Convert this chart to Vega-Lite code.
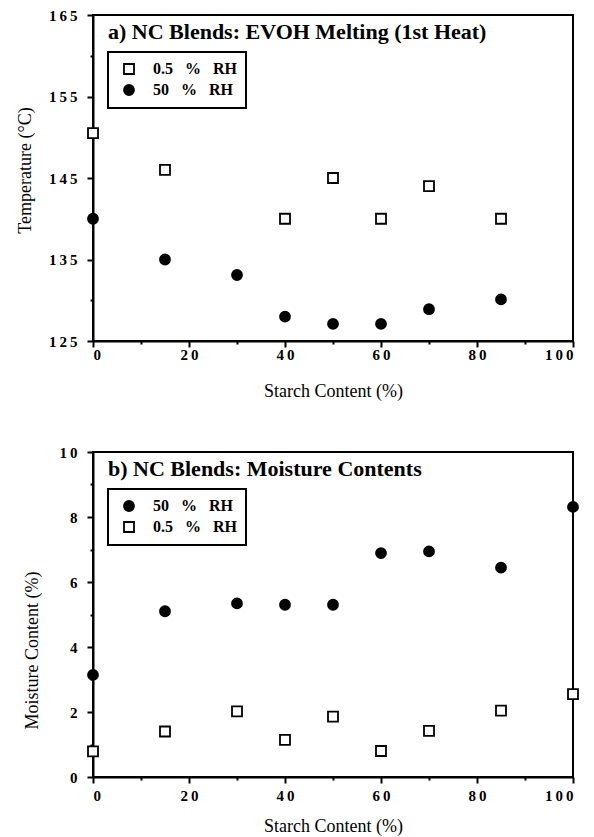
{
  "$schema": "https://vega.github.io/schema/vega-lite/v6.json",
  "background": "white",
  "padding": {"left": 15, "top": 7, "right": 10, "bottom": 0},
  "spacing": 43,
  "datasets": {
    "a": [
      {"starch": 0, "temp": 150.5, "series": "0.5 % RH"},
      {"starch": 15, "temp": 146, "series": "0.5 % RH"},
      {"starch": 40, "temp": 140, "series": "0.5 % RH"},
      {"starch": 50, "temp": 145, "series": "0.5 % RH"},
      {"starch": 60, "temp": 140, "series": "0.5 % RH"},
      {"starch": 70, "temp": 144, "series": "0.5 % RH"},
      {"starch": 85, "temp": 140, "series": "0.5 % RH"},
      {"starch": 0, "temp": 140, "series": "50 % RH"},
      {"starch": 15, "temp": 135, "series": "50 % RH"},
      {"starch": 30, "temp": 133.1, "series": "50 % RH"},
      {"starch": 40, "temp": 128, "series": "50 % RH"},
      {"starch": 50, "temp": 127.1, "series": "50 % RH"},
      {"starch": 60, "temp": 127.1, "series": "50 % RH"},
      {"starch": 70, "temp": 128.9, "series": "50 % RH"},
      {"starch": 85, "temp": 130.1, "series": "50 % RH"}
    ],
    "b": [
      {"starch": 0, "moisture": 3.14, "series": "50 % RH"},
      {"starch": 15, "moisture": 5.1, "series": "50 % RH"},
      {"starch": 30, "moisture": 5.34, "series": "50 % RH"},
      {"starch": 40, "moisture": 5.3, "series": "50 % RH"},
      {"starch": 50, "moisture": 5.3, "series": "50 % RH"},
      {"starch": 60, "moisture": 6.89, "series": "50 % RH"},
      {"starch": 70, "moisture": 6.94, "series": "50 % RH"},
      {"starch": 85, "moisture": 6.44, "series": "50 % RH"},
      {"starch": 100, "moisture": 8.31, "series": "50 % RH"},
      {"starch": 0, "moisture": 0.79, "series": "0.5 % RH"},
      {"starch": 15, "moisture": 1.4, "series": "0.5 % RH"},
      {"starch": 30, "moisture": 2.02, "series": "0.5 % RH"},
      {"starch": 40, "moisture": 1.14, "series": "0.5 % RH"},
      {"starch": 50, "moisture": 1.86, "series": "0.5 % RH"},
      {"starch": 60, "moisture": 0.8, "series": "0.5 % RH"},
      {"starch": 70, "moisture": 1.42, "series": "0.5 % RH"},
      {"starch": 85, "moisture": 2.04, "series": "0.5 % RH"},
      {"starch": 100, "moisture": 2.55, "series": "0.5 % RH"}
    ]
  },
  "resolve": {
    "scale": {"x": "independent", "y": "independent", "shape": "independent", "fill": "independent", "stroke": "independent"},
    "legend": {"shape": "independent", "fill": "independent", "stroke": "independent"}
  },
  "vconcat": [
    {
      "width": 480,
      "height": 326,
      "data": {"name": "a"},
      "title": {"text": "a) NC Blends: EVOH Melting (1st Heat)", "anchor": "start", "frame": "group", "offset": -36, "dx": 15},
      "mark": {"type": "point", "filled": true, "strokeWidth": 1.8, "opacity": 1, "size": 100},
      "encoding": {
        "x": {
          "field": "starch", "type": "quantitative",
          "scale": {"domain": [0, 100], "nice": false},
          "axis": {
            "title": "Starch Content (%)",
            "values": [0, 10, 20, 30, 40, 50, 60, 70, 80, 90, 100],
            "tickSize": {"condition": {"test": "datum.value % 20 === 0", "value": 6}, "value": 3},
            "labelExpr": "datum.value % 20 === 0 ? join(split(datum.label, ''), '\u2009') : ''",
            "labelPadding": 0,
            "titlePadding": 20
          }
        },
        "y": {
          "field": "temp", "type": "quantitative",
          "scale": {"domain": [125, 165], "nice": false, "zero": false},
          "axis": {
            "title": "Temperature (°C)",
            "values": [125, 130, 135, 140, 145, 150, 155, 160, 165],
            "tickSize": {"condition": {"test": "datum.value % 10 === 5", "value": 6}, "value": 3},
            "labelExpr": "datum.value % 10 === 5 ? join(split(datum.label, ''), '\u2009') : ''",
            "labelPadding": 10,
            "titlePadding": 14,
            "titleY": 155
          }
        },
        "shape": {
          "field": "series", "type": "nominal",
          "scale": {"domain": ["0.5 % RH", "50 % RH"], "range": ["square", "circle"]},
          "legend": {"title": null, "orient": "none", "legendX": 15, "legendY": 37, "labelExpr": "replace(replace(datum.label, ' % ', '\u00a0\u00a0\u00a0%\u00a0\u00a0\u00a0'), ' ', '')"}
        },
        "fill": {
          "field": "series", "type": "nominal",
          "scale": {"domain": ["0.5 % RH", "50 % RH"], "range": ["white", "black"]},
          "legend": {"title": null, "orient": "none", "legendX": 15, "legendY": 37, "labelExpr": "replace(replace(datum.label, ' % ', '\u00a0\u00a0\u00a0%\u00a0\u00a0\u00a0'), ' ', '')"}
        },
        "stroke": {
          "field": "series", "type": "nominal",
          "scale": {"domain": ["0.5 % RH", "50 % RH"], "range": ["black", "black"]},
          "legend": {"title": null, "orient": "none", "legendX": 15, "legendY": 37, "labelExpr": "replace(replace(datum.label, ' % ', '\u00a0\u00a0\u00a0%\u00a0\u00a0\u00a0'), ' ', '')"}
        }
      }
    },
    {
      "width": 480,
      "height": 325,
      "data": {"name": "b"},
      "title": {"text": "b) NC Blends: Moisture Contents", "anchor": "start", "frame": "group", "offset": -36, "dx": 15},
      "mark": {"type": "point", "filled": true, "strokeWidth": 1.8, "opacity": 1, "size": 100},
      "encoding": {
        "x": {
          "field": "starch", "type": "quantitative",
          "scale": {"domain": [0, 100], "nice": false},
          "axis": {
            "title": "Starch Content (%)",
            "values": [0, 10, 20, 30, 40, 50, 60, 70, 80, 90, 100],
            "tickSize": {"condition": {"test": "datum.value % 20 === 0", "value": 6}, "value": 3},
            "labelExpr": "datum.value % 20 === 0 ? join(split(datum.label, ''), '\u2009') : ''",
            "labelPadding": 5,
            "titlePadding": 14
          }
        },
        "y": {
          "field": "moisture", "type": "quantitative",
          "scale": {"domain": [0, 10], "nice": false},
          "axis": {
            "title": "Moisture Content (%)",
            "values": [0, 1, 2, 3, 4, 5, 6, 7, 8, 9, 10],
            "tickSize": {"condition": {"test": "datum.value % 2 === 0", "value": 6}, "value": 3},
            "labelExpr": "datum.value % 2 === 0 ? join(split(datum.label, ''), '\u2009') : ''",
            "labelPadding": 10,
            "titlePadding": 17,
            "titleY": 198
          }
        },
        "shape": {
          "field": "series", "type": "nominal",
          "scale": {"domain": ["50 % RH", "0.5 % RH"], "range": ["circle", "square"]},
          "legend": {"title": null, "orient": "none", "legendX": 15, "legendY": 37, "labelExpr": "replace(replace(datum.label, ' % ', '\u00a0\u00a0\u00a0%\u00a0\u00a0\u00a0'), ' ', '')"}
        },
        "fill": {
          "field": "series", "type": "nominal",
          "scale": {"domain": ["50 % RH", "0.5 % RH"], "range": ["black", "white"]},
          "legend": {"title": null, "orient": "none", "legendX": 15, "legendY": 37, "labelExpr": "replace(replace(datum.label, ' % ', '\u00a0\u00a0\u00a0%\u00a0\u00a0\u00a0'), ' ', '')"}
        },
        "stroke": {
          "field": "series", "type": "nominal",
          "scale": {"domain": ["50 % RH", "0.5 % RH"], "range": ["black", "black"]},
          "legend": {"title": null, "orient": "none", "legendX": 15, "legendY": 37, "labelExpr": "replace(replace(datum.label, ' % ', '\u00a0\u00a0\u00a0%\u00a0\u00a0\u00a0'), ' ', '')"}
        }
      }
    }
  ],
  "config": {
    "view": {"stroke": "black", "strokeWidth": 2},
    "font": "Liberation Serif",
    "title": {"font": "Liberation Serif", "fontSize": 22, "fontWeight": "bold", "color": "black"},
    "axis": {
      "grid": false,
      "domainColor": "black", "domainWidth": 2,
      "tickColor": "black", "tickWidth": 2,
      "labelFont": "Liberation Serif", "labelFontWeight": "bold", "labelFontSize": 15, "labelColor": "black",
      "titleFont": "Liberation Serif", "titleFontWeight": "normal", "titleFontSize": 18, "titleColor": "black"
    },
    "legend": {
      "strokeColor": "black",
      "strokeWidth": 2,
      "padding": 9,
      "labelFont": "Liberation Serif", "labelFontWeight": "bold", "labelFontSize": 16, "labelColor": "black",
      "symbolSize": 100, "symbolStrokeWidth": 1.8,
      "symbolOffset": 4, "labelOffset": 16, "rowPadding": 3
    }
  }
}
